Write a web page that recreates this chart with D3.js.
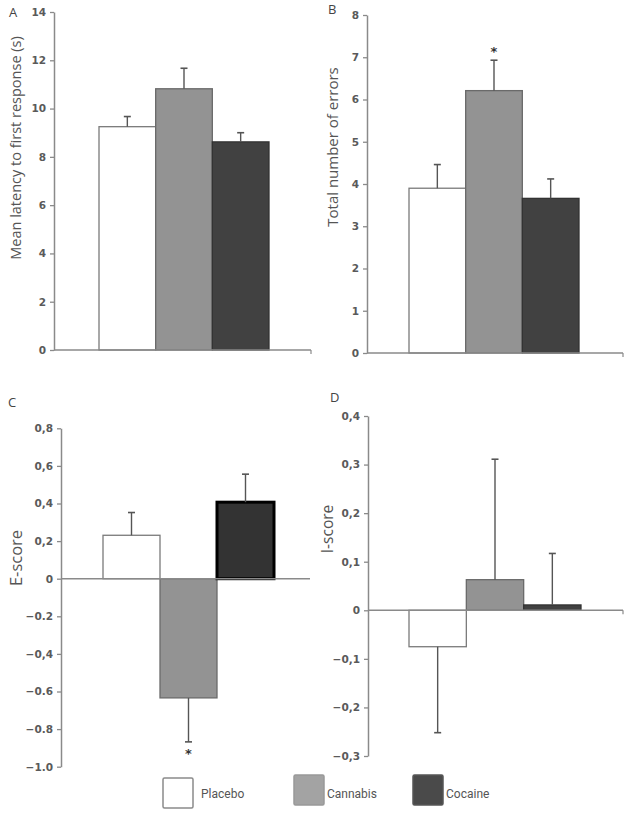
<!DOCTYPE html>
<html>
<head>
<meta charset="utf-8">
<script src="https://cdn.jsdelivr.net/npm/d3@7/dist/d3.min.js"></script>
<style>
html,body{margin:0;padding:0;background:#fff;}
svg{display:block;}
</style>
</head>
<body>
<svg id="chart" width="629" height="814"></svg>
<script>
// ---------- data ----------
const groups = ["Placebo", "Cannabis", "Cocaine"];

const latencyMean = [9.25, 10.82, 8.62];
const latencyErr  = [0.42, 0.85, 0.38];

const errorsMean = [3.9, 6.21, 3.66];
const errorsErr  = [0.56, 0.72, 0.46];

const eScoreMean = [0.231, -0.634, 0.407];
const eScoreErr  = [0.121, 0.234, 0.149];

const iScoreMean = [-0.075, 0.063, 0.011];
const iScoreErr  = [0.177, 0.248, 0.106];

const ticksA = [0, 2, 4, 6, 8, 10, 12, 14];
const tickLabelsA = ["0", "2", "4", "6", "8", "10", "12", "14"];
const ticksB = [0, 1, 2, 3, 4, 5, 6, 7, 8];
const tickLabelsB = ["0", "1", "2", "3", "4", "5", "6", "7", "8"];
const ticksC = [0.8, 0.6, 0.4, 0.2, 0, -0.2, -0.4, -0.6, -0.8, -1.0];
const tickLabelsC = ["0,8", "0,6", "0,4", "0,2", "0", "\u22120.2", "\u22120,4", "\u22120.6", "\u22120.8", "\u22121.0"];
const ticksD = [0.4, 0.3, 0.2, 0.1, 0, -0.1, -0.2, -0.3];
const tickLabelsD = ["0,4", "0,3", "0,2", "0,1", "0", "\u22120,1", "\u22120,2", "\u22120,3"];

const significant = {B: [false, true, false], C: [false, true, false]};

// ---------- styles ----------
const fills = ["#ffffff", "#939393", "#414141"];
const strokes = ["#7a7a7a", "#6a6a6a", "#333333"];
const textColor = "#555";
const axisColor = "#8a8a8a";

const svg = d3.select("#chart");

function panel(cfg) {
  const g = svg.append("g");
  const y = d3.scaleLinear().domain(cfg.domain).range([cfg.yBottom, cfg.yTop]);
  const x = d3.scaleBand().domain(groups).range(cfg.barRange).paddingInner(0).paddingOuter(0);

  // bars
  groups.forEach((grp, i) => {
    const v = cfg.means[i];
    const bf = cfg.barStyle ? cfg.barStyle(i) : {};
    g.append("rect")
      .attr("x", x(grp))
      .attr("width", x.bandwidth())
      .attr("y", Math.min(y(v), y(0)))
      .attr("height", Math.abs(y(v) - y(0)))
      .attr("fill", bf.fill || fills[i])
      .attr("stroke", bf.stroke || strokes[i])
      .attr("stroke-width", bf.sw || 1.3);
  });

  // error bars
  groups.forEach((grp, i) => {
    const v = cfg.means[i];
    const e = cfg.errs[i];
    const end = v >= 0 ? v + e : v - e;
    const cx = x(grp) + x.bandwidth() / 2;
    g.append("line")
      .attr("x1", cx).attr("x2", cx)
      .attr("y1", y(v)).attr("y2", y(end))
      .attr("stroke", "#555").attr("stroke-width", 1.4);
    g.append("line")
      .attr("x1", cx - 3.5).attr("x2", cx + 3.5)
      .attr("y1", y(end)).attr("y2", y(end))
      .attr("stroke", "#555").attr("stroke-width", 1.6);
    if (cfg.sig && cfg.sig[i]) {
      g.append("text")
        .attr("x", cx)
        .attr("y", v >= 0 ? y(end) - 4 : y(end) + 16)
        .attr("text-anchor", "middle")
        .attr("font-family", "DejaVu Sans, sans-serif")
        .attr("font-size", 13)
        .attr("font-weight", "bold")
        .attr("fill", "#333")
        .text("*");
    }
  });

  // x axis (zero line)
  g.append("line")
    .attr("x1", cfg.axisX).attr("x2", cfg.xEnd)
    .attr("y1", y(0)).attr("y2", y(0))
    .attr("stroke", axisColor).attr("stroke-width", 1.4);
  if (cfg.endTick) {
    g.append("line")
      .attr("x1", cfg.xEnd).attr("x2", cfg.xEnd)
      .attr("y1", y(0)).attr("y2", y(0) + 4)
      .attr("stroke", axisColor).attr("stroke-width", 1.2);
  }

  // y axis
  const ax = d3.axisLeft(y)
    .tickValues(cfg.ticks)
    .tickFormat((d, i) => cfg.tickLabels[i])
    .tickSize(4)
    .tickSizeOuter(0)
    .tickPadding(4);
  const ag = g.append("g").attr("transform", `translate(${cfg.axisX},0)`).call(ax);
  ag.select(".domain").attr("stroke", axisColor).attr("stroke-width", 1.5);
  ag.selectAll(".tick line").attr("stroke", axisColor).attr("stroke-width", 1.3);
  ag.selectAll(".tick text")
    .attr("fill", "#5a5a5a")
    .attr("font-family", "DejaVu Sans, sans-serif")
    .attr("font-size", 10.5)
    .attr("font-weight", "bold");

  // axis title
  g.append("text")
    .attr("transform", `translate(${cfg.titleX},${cfg.titleY}) rotate(-90)`)
    .attr("text-anchor", "middle")
    .attr("dominant-baseline", "central")
    .attr("font-family", "Open Sans, sans-serif")
    .attr("font-size", cfg.titleSize)
    .attr("fill", textColor)
    .text(cfg.title);

  // panel letter
  g.append("text")
    .attr("x", cfg.letterX).attr("y", cfg.letterY)
    .attr("font-family", "Open Sans, sans-serif")
    .attr("font-size", 13)
    .attr("fill", "#444")
    .text(cfg.letter);
}

panel({
  letter: "A", letterX: 9, letterY: 17,
  means: latencyMean, errs: latencyErr,
  domain: [0, 14], yTop: 12, yBottom: 350,
  axisX: 54, barRange: [99, 269], xEnd: 311, endTick: true,
  ticks: ticksA, tickLabels: tickLabelsA,
  title: "Mean latency to first response (s)", titleX: 15, titleY: 148, titleSize: 14.5
});

panel({
  letter: "B", letterX: 328, letterY: 14,
  means: errorsMean, errs: errorsErr, sig: significant.B,
  domain: [0, 8], yTop: 15, yBottom: 353,
  axisX: 367, barRange: [409, 579], xEnd: 623, endTick: true,
  ticks: ticksB, tickLabels: tickLabelsB,
  title: "Total number of errors", titleX: 332, titleY: 147, titleSize: 15
});

panel({
  letter: "C", letterX: 8, letterY: 407,
  means: eScoreMean, errs: eScoreErr, sig: significant.C,
  domain: [-1.0, 0.8], yTop: 428.3, yBottom: 766.7,
  axisX: 61, barRange: [103, 274], xEnd: 310, endTick: false,
  ticks: ticksC, tickLabels: tickLabelsC,
  barStyle: i => i === 2 ? {fill: "#333333", stroke: "#000", sw: 3} : {},
  title: "E-score", titleX: 15, titleY: 558, titleSize: 16.5
});

panel({
  letter: "D", letterX: 330, letterY: 402,
  means: iScoreMean, errs: iScoreErr,
  domain: [-0.3, 0.4], yTop: 416, yBottom: 756,
  axisX: 368, barRange: [409, 581], xEnd: 623, endTick: true,
  ticks: ticksD, tickLabels: tickLabelsD,
  title: "I-score", titleX: 327, titleY: 529, titleSize: 15.5
});

// legend
const legendFills = ["#ffffff", "#a3a3a3", "#4a4a4a"];
const legendStrokes = ["#8a8a8a", "#999", "#555"];
const legendBoxX = [163, 294, 413];
const legendBoxY = [778, 775, 775];
const lg = svg.append("g");
groups.forEach((grp, i) => {
  lg.append("rect")
    .attr("x", legendBoxX[i]).attr("y", legendBoxY[i])
    .attr("width", 30).attr("height", 30).attr("rx", 1.5)
    .attr("fill", legendFills[i]).attr("stroke", legendStrokes[i]).attr("stroke-width", 1.5);
  lg.append("text")
    .attr("x", legendBoxX[i] + 33 + (i === 0 ? 5 : 0)).attr("y", 794)
    .attr("dominant-baseline", "central")
    .attr("font-family", "Roboto, sans-serif")
    .attr("font-size", 12)
    .attr("fill", "#555")
    .text(grp);
});
</script>
</body>
</html>
